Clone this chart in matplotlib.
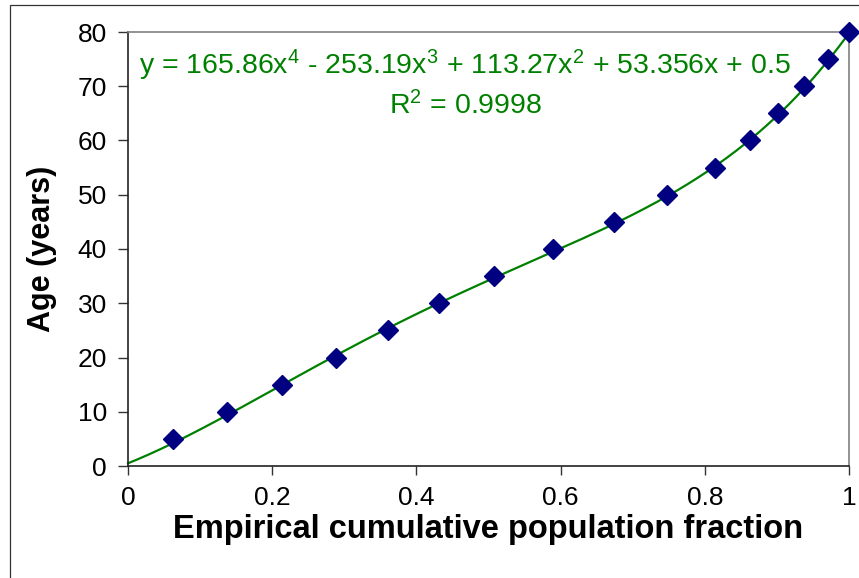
import numpy as np
import matplotlib
matplotlib.use("Agg")
from matplotlib import pyplot as plt
from matplotlib.patches import Rectangle

# data
fraction = [0.062, 0.138, 0.214, 0.289, 0.360, 0.432, 0.508, 0.589, 0.674,
            0.747, 0.814, 0.862, 0.901, 0.938, 0.971, 1.0]
age = [5, 10, 15, 20, 25, 30, 35, 40, 45, 50, 55, 60, 65, 70, 75, 80]

# Excel polynomial trendline coefficients (highest power first)
trend_coef = [165.86, -253.19, 113.27, 53.356, 0.5]
r_squared = 0.9998

x_ticks = [0, 0.2, 0.4, 0.6, 0.8, 1]
x_tick_labels = ["0", "0.2", "0.4", "0.6", "0.8", "1"]
y_ticks = [0, 10, 20, 30, 40, 50, 60, 70, 80]

plt.rcParams["font.family"] = ["Liberation Sans", "DejaVu Sans"]
plt.rcParams["mathtext.fontset"] = "custom"
plt.rcParams["mathtext.rm"] = "Liberation Sans"
plt.rcParams["mathtext.it"] = "Liberation Sans"

W, H = 859, 578
fig = plt.figure(figsize=(W / 100, H / 100), dpi=100)
fig.patch.set_facecolor("white")

# outer chart-area border (only left/top visible in the original)
fig.patches.append(Rectangle((10 / W, -0.5), 2, 1.5 - 5 / H, transform=fig.transFigure,
                             fill=False, edgecolor="#333333", lw=0.9))

ax = fig.add_axes([128 / W, 1 - 466 / H, (849 - 128) / W, (466 - 32) / H])

xs = np.linspace(0, 1, 300)
ax.plot(xs, np.polyval(trend_coef, xs), color="#008000", lw=1.6, zorder=2, clip_on=False)
ax.plot(fraction, age, linestyle="none", marker="D", markersize=10,
        color="#000080", markeredgecolor="#000080", zorder=3, clip_on=False)

ax.set_xlim(0, 1)
ax.set_ylim(0, 80)
ax.set_xticks(x_ticks)
ax.set_xticklabels(x_tick_labels)
ax.set_yticks(y_ticks)
ax.tick_params(axis="both", direction="out", width=1, labelsize=19, color="#333333")
ax.tick_params(axis="y", length=7.2, pad=8)
ax.tick_params(axis="x", length=6.5, pad=8)

for side in ("top", "right"):
    ax.spines[side].set_color("#808080")
    ax.spines[side].set_linewidth(1.2)
for side in ("left", "bottom"):
    ax.spines[side].set_color("#222222")
    ax.spines[side].set_linewidth(1.2)

ax.set_xlabel("Empirical cumulative population fraction", fontsize=23.5, fontweight="bold", labelpad=3)
ax.set_ylabel("Age (years)", fontsize=22, fontweight="bold", labelpad=15)

c = trend_coef
eq = (f"y = {c[0]:.2f}x$^{{4}}$ - {abs(c[1]):.2f}x$^{{3}}$ + {c[2]:.2f}x$^{{2}}$ "
      f"+ {c[3]:.3f}x + {c[4]}\nR$^{{2}}$ = {r_squared}")
ax.text(0.468, 0.880, eq, transform=ax.transAxes, ha="center", va="center",
        multialignment="center", fontsize=20.5, color="#008000", linespacing=1.33)

fig.savefig("out.png", dpi=100)
